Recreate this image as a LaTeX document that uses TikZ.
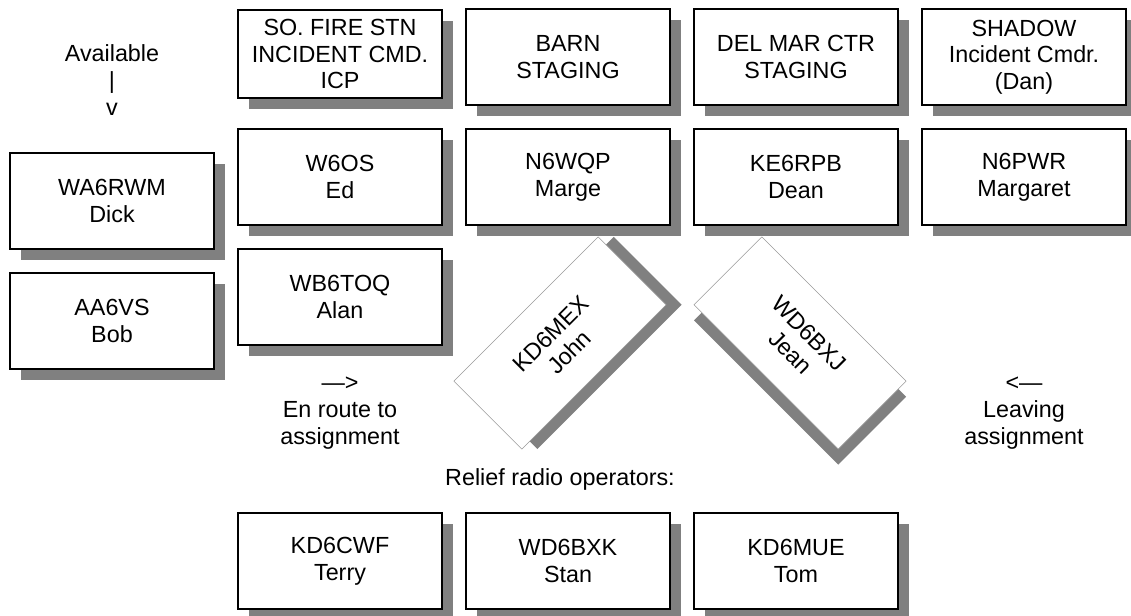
\documentclass[tikz,border=0pt]{standalone}
\usepackage{fontspec}
\setmainfont{Liberation Sans}
\usetikzlibrary{shadows}
\definecolor{shade}{RGB}{128, 128, 128}
\newcommand{\stnfont}{\fontsize{17.5pt}{20pt}\selectfont}

\tikzset{
    stnbase/.style={fill=white, align=center, font=\stnfont,
        minimum width=153pt, minimum height=72pt, inner sep=0pt},
    stnbox/.style={stnbase, draw, line width=0.8pt,
        drop shadow={shadow xshift=8.5pt, shadow yshift=-8.5pt, fill=shade, opacity=1}},
    movebox/.style={stnbase, draw=gray!80, line width=0.4pt,
        drop shadow={fill=shade, opacity=1, #1}},
    note/.style={align=center, font=\stnfont}
}

\begin{document}
\begin{tikzpicture}[x=0.75pt, y=0.75pt]
        \useasboundingbox (0,0) rectangle (1131,616);

        % Einsatzorte
        \node[stnbox, minimum height=66pt] (icp) at (340, 562) {SO. FIRE STN\\INCIDENT CMD.\\ICP};
        \foreach \x/\nm/\txt in {568/barn/{BARN\\STAGING}, 796/delmar/{DEL MAR CTR\\STAGING}, 1024/shadowic/{SHADOW\\Incident Cmdr.\\(Dan)}} {
            \node[stnbox] (\nm) at (\x, 559) {\txt};
        }

        % Funker im Einsatz
        \foreach \x/\nm/\txt in {340/w6os/{W6OS\\Ed}, 568/n6wqp/{N6WQP\\Marge}, 796/ke6rpb/{KE6RPB\\Dean}, 1024/n6pwr/{N6PWR\\Margaret}} {
            \node[stnbox] (\nm) at (\x, 439) {\txt};
        }

        % Verfuegbar
        \node[note] (avail) at (112, 536) {Available\\|\\v};
        \node[stnbox] (wa6rwm) at (112, 415) {WA6RWM\\Dick};
        \node[stnbox] (aa6vs) at (112, 295) {AA6VS\\Bob};

        % Unterwegs
        \node[stnbox] (wb6toq) at (340, 319) {WB6TOQ\\Alan};
        \node[movebox={shadow xshift=11.7pt, shadow yshift=0pt}, rotate=45] (kd6mex) at (560, 273) {KD6MEX\\John};
        \node[movebox={shadow xshift=0pt, shadow yshift=-11.7pt}, rotate=-45] (wd6bxj) at (800, 273) {WD6BXJ\\Jean};
        \node[note] (enroute) at (340, 203) {—>\\En route to\\assignment};
        \node[note] (leaving) at (1024, 203) {<—\\Leaving\\assignment};

        % Abloesung
        \node[note] (relief) at (560, 137) {Relief radio operators:};
        \foreach \x/\nm/\txt in {340/kd6cwf/{KD6CWF\\Terry}, 568/wd6bxk/{WD6BXK\\Stan}, 796/kd6mue/{KD6MUE\\Tom}} {
            \node[stnbox] (\nm) at (\x, 55) {\txt};
        }

    \end{tikzpicture}
\end{document}
